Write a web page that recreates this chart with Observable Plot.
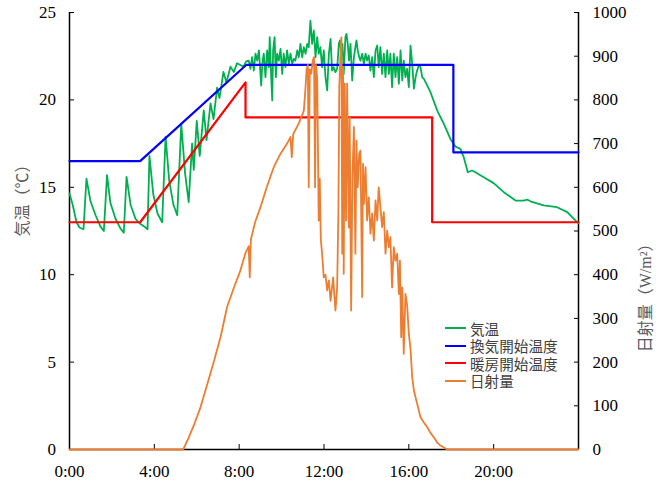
<!DOCTYPE html>
<html><head><meta charset="utf-8">
<script src="https://cdn.jsdelivr.net/npm/d3@7"></script>
<script src="https://cdn.jsdelivr.net/npm/@observablehq/plot@0.6"></script>
<style>
body{margin:0;background:#fff;}
#wrap{position:relative;width:656px;height:483px;}
#legend{position:absolute;left:445px;top:319.5px;font-family:"Noto Sans CJK JP";font-size:14.6px;color:#404040;line-height:17.5px;}
.row{display:flex;align-items:center;height:17.5px;white-space:nowrap;}
.sw{display:inline-block;width:21px;height:2px;margin-right:4px;}
</style></head><body><div id="wrap"><div id="legend"></div></div>
<script>
// time axis (hours)
const xTicks = [0, 4, 8, 12, 16, 20];
const tempTicks = [0, 5, 10, 15, 20, 25];
const radTicks = [0, 100, 200, 300, 400, 500, 600, 700, 800, 900, 1000];
const radPerDeg = 40; // 1000 W/m2 <-> 25 ℃

const seriesNames = ["気温", "換気開始温度", "暖房開始温度", "日射量"];
const seriesColors = ["#00B050", "#0000FF", "#FF0000", "#ED7D31"];

// 気温
const tempHours = [0.00,0.15,0.33,0.47,0.66,0.80,0.99,1.23,1.46,1.62,1.77,1.93,2.17,2.40,2.56,2.69,2.88,3.11,3.35,3.54,3.68,3.77,3.95,4.15,4.37,4.53,4.70,4.90,5.08,5.27,5.45,5.62,5.78,5.86,6.00,6.14,6.33,6.46,6.65,6.79,6.96,7.07,7.26,7.40,7.59,7.75,7.90,8.06,8.20,8.33,8.45,8.53,8.61,8.69,8.77,8.85,8.93,9.04,9.09,9.16,9.24,9.32,9.40,9.44,9.51,9.56,9.60,9.67,9.73,9.79,9.87,9.95,10.03,10.10,10.18,10.26,10.34,10.42,10.50,10.58,10.65,10.74,10.81,10.89,10.97,11.05,11.13,11.21,11.28,11.36,11.44,11.52,11.60,11.68,11.75,11.83,11.91,11.99,12.07,12.15,12.23,12.31,12.38,12.46,12.54,12.62,12.70,12.75,12.81,12.87,12.93,13.01,13.06,13.12,13.18,13.25,13.33,13.41,13.48,13.53,13.59,13.66,13.72,13.80,13.88,13.96,14.03,14.11,14.19,14.27,14.35,14.43,14.51,14.58,14.66,14.74,14.82,14.90,14.98,15.06,15.13,15.21,15.29,15.37,15.45,15.53,15.61,15.69,15.76,15.84,15.92,16.00,16.08,16.16,16.24,16.32,16.39,16.47,16.55,16.63,16.71,16.87,17.02,17.34,17.65,17.96,18.20,18.43,18.59,18.78,18.98,19.14,19.53,20.00,20.48,21.03,21.42,21.58,21.73,22.36,22.99,23.47,23.94,24.00];
const tempValues = [14.65,14.0,13.0,12.7,12.6,15.5,14.2,13.4,12.75,12.5,15.7,14.1,13.2,12.65,12.4,15.6,14.0,13.2,12.9,12.75,12.6,16.8,14.6,13.5,13.0,17.9,15.4,14.0,13.4,18.6,15.8,14.15,17.5,16.0,18.8,16.8,19.4,17.7,19.8,18.9,20.7,20.1,21.6,21.0,21.9,21.6,22.1,22.0,21.9,22.2,22.25,21.78,22.44,21.68,22.64,22.25,22.83,20.82,22.07,22.64,21.30,22.83,21.87,23.59,21.30,19.97,22.83,23.59,21.30,22.64,22.25,22.92,21.49,22.64,21.87,22.83,22.07,22.64,22.07,22.35,22.25,22.83,22.44,23.21,22.44,23.02,22.64,23.21,23.02,24.54,23.21,23.97,22.44,23.59,22.64,23.02,21.87,22.83,21.30,20.54,22.64,23.49,21.68,21.87,21.59,21.78,23.21,23.40,22.64,23.21,21.49,23.59,23.78,23.21,22.25,23.21,21.11,22.44,23.02,23.40,22.83,22.44,22.25,22.64,22.07,22.64,22.25,22.54,21.68,22.44,21.30,22.83,23.11,21.87,23.02,21.49,22.64,21.30,22.83,21.49,22.64,20.73,22.64,21.30,22.44,20.92,22.83,21.11,22.25,21.30,21.78,20.73,23.11,22.07,20.64,21.30,21.68,21.97,21.87,21.30,21.20,20.82,20.44,19.39,18.63,17.77,17.33,17.2,16.72,15.86,15.96,15.86,15.58,15.24,14.72,14.24,14.24,14.30,14.20,13.96,13.86,13.58,13.0,12.95];

// 換気開始温度
const ventHours = [0, 3.33, 8.33, 18.1, 18.1, 24];
const ventValues = [16.5, 16.5, 22, 22, 17, 17];

// 暖房開始温度
const heatHours = [0, 3.33, 8.3, 8.3, 17.1, 17.1, 24];
const heatValues = [13, 13, 21, 19, 19, 13, 13];

// 日射量 (W/m2)
const radHours = [0,5.36,5.6,5.86,6.18,6.5,6.8,7.12,7.43,7.75,8.06,8.3,8.45,8.5,8.55,8.75,9.0,9.3,9.63,9.95,10.26,10.42,10.48,10.55,10.8,10.97,11.05,11.13,11.18,11.24,11.28,11.33,11.40,11.47,11.53,11.58,11.62,11.68,11.75,11.80,11.85,11.91,11.99,12.07,12.15,12.23,12.31,12.43,12.54,12.62,12.68,12.72,12.78,12.82,12.86,12.90,12.93,12.98,13.04,13.09,13.17,13.21,13.28,13.34,13.41,13.48,13.53,13.59,13.66,13.72,13.80,13.84,13.88,13.96,14.03,14.11,14.19,14.27,14.35,14.43,14.51,14.58,14.66,14.74,14.82,14.90,14.98,15.06,15.13,15.21,15.29,15.37,15.45,15.53,15.58,15.64,15.69,15.76,15.84,15.92,16.00,16.08,16.16,16.24,16.39,16.55,16.71,16.87,17.02,17.18,17.35,17.49,17.81,24];
const radValues = [0,0,25,55,97,150,200,257,326,370,410,450,465,394,480,520,554,600,646,677,700,715,669,722,745,765,776,829,870,880,600,870,860,890,898,600,880,850,524,620,480,448,394,400,364,387,340,394,318,371,547,829,913,943,448,875,402,837,524,837,508,760,318,623,738,448,707,600,677,684,349,654,562,646,524,577,494,540,478,570,524,600,555,509,543,448,501,463,486,371,463,432,448,356,432,257,371,219,356,330,265,230,165,135,105,74,62,51,38,28,15,9,0,0];

const zip = (hs, vs) => hs.map((t, i) => ({t, v: vs[i]}));
const temp = zip(tempHours, tempValues);
const vent = zip(ventHours, ventValues);
const heat = zip(heatHours, heatValues);
const rad = zip(radHours, radValues);

const serif = "'Liberation Serif', 'Times New Roman', serif";
const titleFont = "'Liberation Serif', 'Noto Sans CJK JP', sans-serif";

const chart = Plot.plot({
  width: 656, height: 483,
  marginLeft: 69, marginRight: 78, marginTop: 12, marginBottom: 34,
  style: {fontFamily: serif, fontSize: "17px", color: "#000", background: "#fff"},
  x: {domain: [0, 24]},
  y: {domain: [0, 25]},
  marks: [
    Plot.axisX(xTicks, {tickSize: -5, tickPadding: 20.5, tickFormat: h => `${h}:00`, label: null, fontFamily: serif}),
    Plot.axisY(tempTicks, {anchor: "left", tickSize: -5, tickPadding: 18.5, label: null, fontFamily: serif}),
    Plot.axisY(radTicks.map(r => r / radPerDeg), {anchor: "right", tickSize: -5, tickPadding: 19, tickFormat: v => String(Math.round(v * radPerDeg)), label: null, fontFamily: serif}),
    Plot.ruleX([0, 24], {stroke: "#000", strokeWidth: 1.5}),
    Plot.ruleY([0], {stroke: "#000", strokeWidth: 1.5}),
    Plot.line(temp, {x: "t", y: "v", stroke: seriesColors[0], strokeWidth: 1.8}),
    Plot.line(vent, {x: "t", y: "v", stroke: seriesColors[1], strokeWidth: 2.2}),
    Plot.line(heat, {x: "t", y: "v", stroke: seriesColors[2], strokeWidth: 2.2}),
    Plot.line(rad, {x: "t", y: d => d.v / radPerDeg, stroke: seriesColors[3], strokeWidth: 1.8}),
    Plot.text(["気温（℃）"], {frameAnchor: "left", dx: -47, dy: 5.5, rotate: -90, fontFamily: titleFont, fontSize: 16, fill: "#595959"}),
    Plot.text(["日射量（W/m²）"], {frameAnchor: "right", dx: 67, dy: 4.5, rotate: -90, fontFamily: titleFont, fontSize: 16, fill: "#595959"})
  ]
});
document.getElementById("wrap").prepend(chart);

const legend = document.getElementById("legend");
seriesNames.forEach((name, i) => {
  const row = document.createElement("div");
  row.className = "row";
  const sw = document.createElement("span");
  sw.className = "sw";
  sw.style.background = seriesColors[i];
  row.appendChild(sw);
  row.appendChild(document.createTextNode(name));
  legend.appendChild(row);
});
</script>
</body></html>
